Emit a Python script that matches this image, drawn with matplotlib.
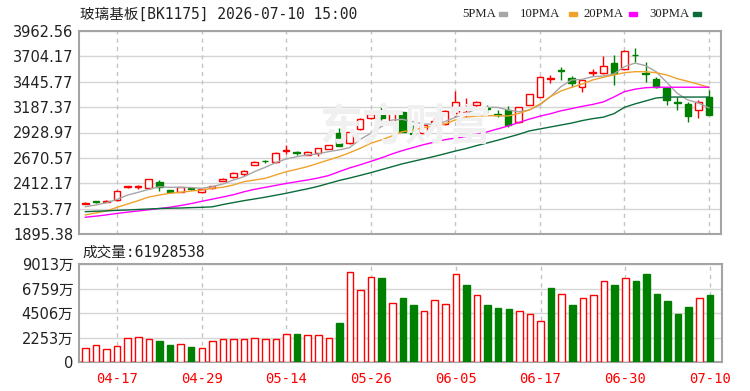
import matplotlib
matplotlib.use('Agg')
import matplotlib.pyplot as plt

# ---------------- data ----------------
dates = ['04-14', '04-15', '04-16', '04-17', '04-20', '04-21', '04-22', '04-23', '04-24', '04-27',
         '04-28', '04-29', '04-30', '05-06', '05-07', '05-08', '05-11', '05-12', '05-13', '05-14',
         '05-15', '05-18', '05-19', '05-20', '05-21', '05-22', '05-25', '05-26', '05-27', '05-28',
         '05-29', '06-01', '06-02', '06-03', '06-04', '06-05', '06-08', '06-09', '06-10', '06-11',
         '06-12', '06-15', '06-16', '06-17', '06-18', '06-22', '06-23', '06-24', '06-25', '06-26',
         '06-29', '06-30', '07-01', '07-02', '07-03', '07-06', '07-07', '07-08', '07-09', '07-10']

opens = [2205, 2227, 2222, 2241, 2372, 2376, 2361, 2428, 2343, 2326,
         2362, 2322, 2362, 2440, 2473, 2506, 2597, 2642, 2625, 2740,
         2730, 2700, 2717, 2764, 2927, 2819, 2962, 3073, 3135, 3039,
         3141, 2922, 2920, 3035, 3012, 3124, 3107, 3209, 3175, 3117,
         3158, 3032, 3209, 3294, 3475, 3562, 3487, 3389, 3535, 3532,
         3634, 3572, 3722, 3536, 3470, 3379, 3236, 3219, 3158, 3294]
highs = [2222, 2232, 2240, 2340, 2388, 2390, 2460, 2445, 2348, 2375,
         2368, 2356, 2388, 2462, 2524, 2544, 2636, 2646, 2728, 2797,
         2745, 2738, 2772, 2802, 2978, 2942, 3072, 3118, 3185, 3150,
         3150, 3005, 3010, 3075, 3156, 3352, 3280, 3247, 3209, 3158,
         3202, 3190, 3326, 3502, 3515, 3592, 3504, 3468, 3572, 3708,
         3717, 3770, 3786, 3650, 3490, 3396, 3290, 3240, 3260, 3365]
lows = [2200, 2215, 2218, 2236, 2368, 2350, 2356, 2335, 2316, 2322,
        2340, 2316, 2358, 2436, 2468, 2490, 2593, 2620, 2620, 2710,
        2700, 2696, 2690, 2760, 2790, 2814, 2957, 3069, 3056, 3020,
        2930, 2918, 2915, 3003, 3007, 3090, 3080, 3172, 3124, 3090,
        2981, 3027, 3204, 3289, 3430, 3464, 3392, 3345, 3501, 3527,
        3411, 3565, 3650, 3447, 3385, 3209, 3162, 3040, 3073, 3107]
closes = [2216, 2222, 2236, 2335, 2384, 2384, 2455, 2371, 2322, 2371,
          2350, 2353, 2384, 2458, 2519, 2540, 2632, 2636, 2723, 2746,
          2722, 2734, 2768, 2798, 2792, 2937, 3067, 3114, 3073, 3135,
          2937, 2918, 3005, 3042, 3151, 3243, 3141, 3243, 3170, 3112,
          3005, 3185, 3321, 3497, 3484, 3555, 3430, 3464, 3541, 3606,
          3538, 3759, 3715, 3528, 3396, 3260, 3230, 3097, 3243, 3107]

ma5 = [2173, 2191, 2214, 2248, 2292, 2320, 2350, 2377, 2371, 2371,
       2368, 2361, 2377, 2404, 2445, 2479, 2530, 2574, 2622, 2659,
       2683, 2700, 2710, 2734, 2751, 2775, 2858, 2921, 2988, 3056,
       3063, 3039, 3016, 3012, 3039, 3083, 3124, 3168, 3185, 3185,
       3158, 3141, 3158, 3209, 3294, 3396, 3464, 3470, 3498, 3504,
       3525, 3599, 3636, 3610, 3548, 3440, 3328, 3260, 3230, 3180]
ma10 = [2090, 2110, 2130, 2167, 2201, 2235, 2272, 2292, 2310, 2320,
        2333, 2343, 2361, 2371, 2394, 2428, 2445, 2462, 2496, 2530,
        2554, 2581, 2615, 2649, 2683, 2723, 2768, 2819, 2853, 2893,
        2937, 2954, 2978, 2995, 3016, 3056, 3083, 3097, 3100, 3100,
        3097, 3124, 3158, 3219, 3294, 3352, 3389, 3423, 3464, 3491,
        3515, 3538, 3548, 3548, 3538, 3515, 3477, 3450, 3420, 3389]
ma20 = [2066, 2077, 2090, 2105, 2118, 2130, 2142, 2155, 2168, 2185,
        2205, 2228, 2250, 2272, 2295, 2325, 2350, 2370, 2390, 2410,
        2428, 2445, 2465, 2490, 2530, 2568, 2600, 2635, 2670, 2710,
        2745, 2775, 2805, 2830, 2855, 2872, 2888, 2910, 2935, 2965,
        2995, 3030, 3065, 3095, 3120, 3150, 3172, 3195, 3215, 3240,
        3290, 3345, 3370, 3385, 3390, 3390, 3390, 3390, 3390, 3390]
ma30 = [2123, 2127, 2131, 2136, 2140, 2145, 2150, 2155, 2158, 2160,
        2164, 2167, 2172, 2195, 2215, 2235, 2252, 2270, 2290, 2310,
        2333, 2355, 2380, 2410, 2440, 2465, 2492, 2520, 2550, 2580,
        2610, 2635, 2660, 2685, 2712, 2740, 2765, 2795, 2822, 2850,
        2880, 2910, 2945, 2965, 2985, 3005, 3025, 3050, 3070, 3085,
        3120, 3185, 3220, 3250, 3280, 3290, 3290, 3290, 3290, 3290]

# volume in 万 (10k shares)
vol = [1318, 1563, 1165, 1471, 2176, 2330, 2084, 1962, 1563, 1655,
       1410, 1318, 1962, 2084, 2084, 2084, 2207, 2084, 2084, 2575,
       2575, 2453, 2453, 2207, 3617, 8306, 6622, 7787, 7695, 5457,
       5855, 5212, 4690, 5733, 5334, 8093, 7052, 6131, 5212, 4966,
       4843, 4690, 4415, 3801, 6775, 6254, 5212, 5855, 6131, 7419,
       7052, 7695, 7419, 8093, 6254, 5610, 4445, 5089, 5855, 6192.85]

price_ticks = [1895.38, 2153.77, 2412.17, 2670.57, 2928.97, 3187.37, 3445.77, 3704.17, 3962.56]
vol_ticks = [0, 2253, 4506, 6759, 9013]
vol_tick_labels = ['0', '2253万', '4506万', '6759万', '9013万']
xtick_labels = ['04-17', '04-29', '05-14', '05-26', '06-05', '06-17', '06-30', '07-10']
title_text = '玻璃基板[BK1175] 2026-07-10 15:00'
vol_text = '成交量:61928538'
ma_names = ['5PMA', '10PMA', '20PMA', '30PMA']

# ---------------- style ----------------
RED = '#ff0000'
GREEN = '#008000'
MA_COLORS = ['#a6a6a6', '#f0a22a', '#ff00ff', '#0b6b3a']
GRID = '#d6d6d6'
SPINE = '#a4a4a4'
TXT = '#222222'
W = 0.62
FW, FH = 750, 391

fig = plt.figure(figsize=(FW / 100, FH / 100), dpi=100)
ax = fig.add_axes([79 / FW, (FH - 234) / FH, 642 / FW, 203 / FH])
axv = fig.add_axes([79 / FW, (FH - 362) / FH, 643 / FW, 98 / FH])

n = len(dates)
xs = list(range(n))
xt = [dates.index(d) for d in xtick_labels]

# watermark
fig.text(405 / FW, 1 - 127 / FH, '东方财富', color='#f0f0f0', fontsize=31, fontweight='bold',
         family=['Noto Sans CJK SC'], ha='center', va='center', zorder=0)

# candles
for i in xs:
    o, h, l, c = opens[i], highs[i], lows[i], closes[i]
    up = c >= o
    col = RED if up else GREEN
    top, bot = max(o, c), min(o, c)
    ax.vlines(i, top, h, color=col, lw=1, zorder=3)
    ax.vlines(i, l, bot, color=col, lw=1, zorder=3)
    ax.bar(i, top - bot, bottom=bot, width=W, facecolor='white' if up else col,
           edgecolor=col, lw=1, zorder=4)

for series, colr in zip([ma5, ma10, ma20, ma30], MA_COLORS):
    ax.plot(xs, series, color=colr, lw=1.0, zorder=5)

# volume bars
for i in xs:
    ref = closes[i - 1] if i > 0 else opens[i]
    up = closes[i] >= ref
    col = RED if up else GREEN
    axv.bar(i, vol[i], width=W, facecolor='white' if up else col, edgecolor=col, lw=1, zorder=3)

for a in (ax, axv):
    a.set_xlim(-0.6, n + 0.14)
    a.set_facecolor('none')
    for s in a.spines.values():
        s.set_color(SPINE)
        s.set_linewidth(1.5)
    a.set_xticks(xt)
    a.tick_params(length=0)
    for xv in xt:
        a.axvline(xv, color='#c4c4c4', lw=1, ls=(0, (3, 3)), zorder=1)
    a.yaxis.grid(True, color=GRID, lw=1, zorder=0)
    a.set_axisbelow(True)

ax.set_ylim(price_ticks[0], price_ticks[-1])
ax.set_yticks(price_ticks)
ax.set_yticklabels(['%.2f' % v for v in price_ticks], fontsize=10.5, color=TXT, family='DejaVu Sans')
ax.set_xticklabels([])
ax.tick_params(axis='y', pad=4)

axv.set_ylim(0, vol_ticks[-1])
axv.set_yticks(vol_ticks)
axv.set_yticklabels(vol_tick_labels, fontsize=10.5, color=TXT, family=['DejaVu Sans', 'Noto Sans CJK SC'])
axv.tick_params(axis='y', pad=4)
axv.set_xticklabels(xtick_labels, fontsize=10, color=RED, family='DejaVu Sans Mono')
axv.tick_params(axis='x', pad=7)

# title & volume label
fig.text(80 / FW, 1 - 14 / FH, title_text, fontsize=10.5, color=TXT,
         family=['DejaVu Sans Mono', 'Noto Sans CJK SC'], ha='left', va='center')
fig.text(82 / FW, 1 - 252 / FH, vol_text, fontsize=10.5, color=TXT,
         family=['DejaVu Sans Mono', 'Noto Sans CJK SC'], ha='left', va='center')

# legend
leg_x = [462, 520, 584, 649]
sw_x = [499, 569, 629, 693]
for name, lx, sx, colr in zip(ma_names, leg_x, sw_x, MA_COLORS):
    fig.text(lx / FW, 1 - 14 / FH, name, fontsize=9.2, color=TXT, family='Liberation Serif',
             ha='left', va='center')
    fig.patches.append(plt.Rectangle((sx / FW, 1 - 16 / FH), 8 / FW, 4 / FH, color=colr,
                                     transform=fig.transFigure, figure=fig))

fig.savefig('out.png', dpi=100, facecolor='white')
